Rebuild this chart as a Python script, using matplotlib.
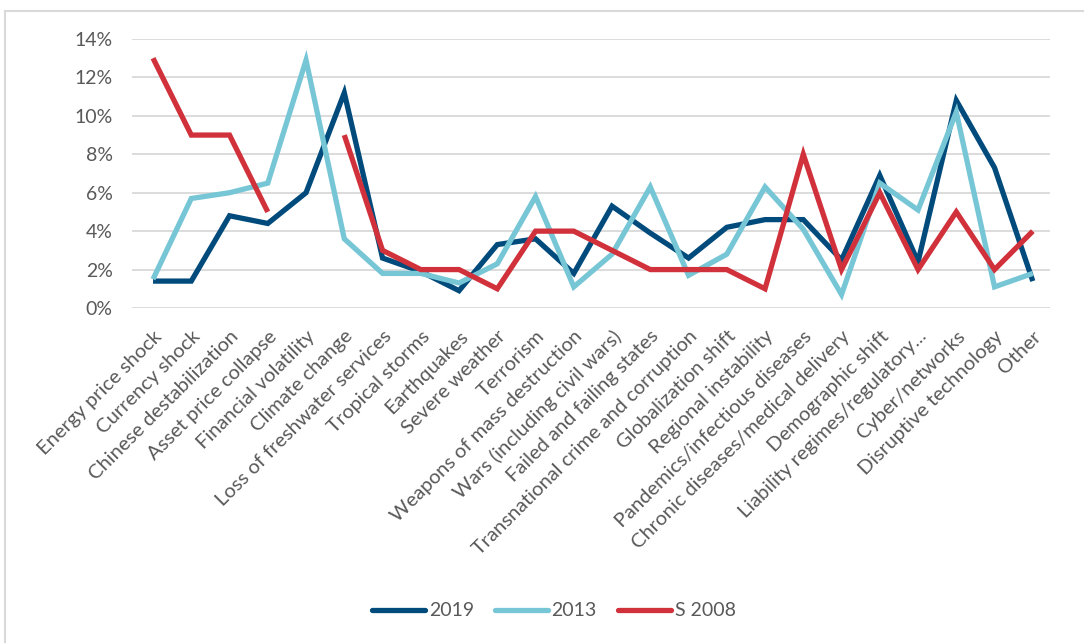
import numpy as np
import matplotlib.pyplot as plt
from matplotlib.lines import Line2D

# Risk categories and share of mentions per survey year
categories = [
    'Energy price shock', 'Currency shock', 'Chinese destabilization',
    'Asset price collapse', 'Financial volatility', 'Climate change',
    'Loss of freshwater services', 'Tropical storms', 'Earthquakes',
    'Severe weather', 'Terrorism', 'Weapons of mass destruction',
    'Wars (including civil wars)', 'Failed and failing states',
    'Transnational crime and corruption', 'Globalization shift',
    'Regional instability', 'Pandemics/infectious diseases',
    'Chronic diseases/medical delivery', 'Demographic shift',
    'Liability regimes/regulatory...', 'Cyber/networks',
    'Disruptive technology', 'Other',
]

vals_2019 = [1.4, 1.4, 4.8, 4.4, 6.0, 11.2, 2.6, 1.9, 0.9, 3.3, 3.6, 1.8,
             5.3, 3.9, 2.6, 4.2, 4.6, 4.6, 2.5, 6.9, 2.4, 10.8, 7.3, 1.4]
vals_2013 = [1.5, 5.7, 6.0, 6.5, 12.9, 3.6, 1.8, 1.8, 1.3, 2.3, 5.8, 1.1,
             2.8, 6.3, 1.7, 2.8, 6.3, 4.1, 0.7, 6.5, 5.1, 10.2, 1.1, 1.8]
vals_2008 = [13, 9, 9, 5, np.nan, 9, 3, 2, 2, 1, 4, 4,
             3, 2, 2, 2, 1, 8, 2, 6, 2, 5, 2, 4]

series_names = ['2019', '2013', 'S 2008']
series_colors = ['#004b7c', '#77c6d6', '#d1313b']

plt.rcParams['font.family'] = ['Lato', 'DejaVu Sans']
text_color = '#595959'

fig = plt.figure(figsize=(10.84, 6.43), dpi=100)
ax = fig.add_axes([132 / 1084, 1 - 308 / 643, (1050 - 132) / 1084, (308 - 39) / 643])

x = np.arange(len(categories))
for vals, name, col in zip([vals_2019, vals_2013, vals_2008], series_names, series_colors):
    ax.plot(x, np.array(vals) / 100, color=col, lw=3.8, label=name,
            solid_joinstyle='miter', solid_capstyle='butt', zorder=3)

ax.set_xlim(-0.55, len(categories) - 0.55)
ax.set_ylim(0, 0.14)
ax.set_yticks(np.arange(0, 0.141, 0.02))
ax.set_yticklabels([f'{int(round(v * 100))}%' for v in np.arange(0, 0.141, 0.02)])
ax.grid(axis='y', color='#d9d9d9', lw=1.3)
ax.set_axisbelow(True)
for s in ax.spines.values():
    s.set_visible(False)
ax.tick_params(axis='both', length=0, colors=text_color, labelsize=14)
ax.tick_params(axis='y', pad=14)

ax.set_xticks(x)
ax.set_xticklabels(categories, rotation=45, ha='right', rotation_mode='anchor',
                   fontsize=14.5)
ax.tick_params(axis='x', pad=14)

handles = [Line2D([0], [0], color=c, lw=3.8, solid_capstyle='round') for c in series_colors]
fig.legend(handles, series_names, loc='center', bbox_to_anchor=(0.511, 1 - 611 / 643),
           ncol=3, frameon=False, fontsize=14, handlelength=2.7, handletextpad=0.2,
           columnspacing=1.1, labelcolor=text_color)

# light frame around the chart area
fig.add_artist(Line2D([5 / 1084, 1], [1 - 11 / 643, 1 - 11 / 643], color='#d9d9d9', lw=1.5))
fig.add_artist(Line2D([5 / 1084, 5 / 1084], [0, 1 - 11 / 643], color='#d9d9d9', lw=1.5))

fig.savefig('out.png', dpi=100)
